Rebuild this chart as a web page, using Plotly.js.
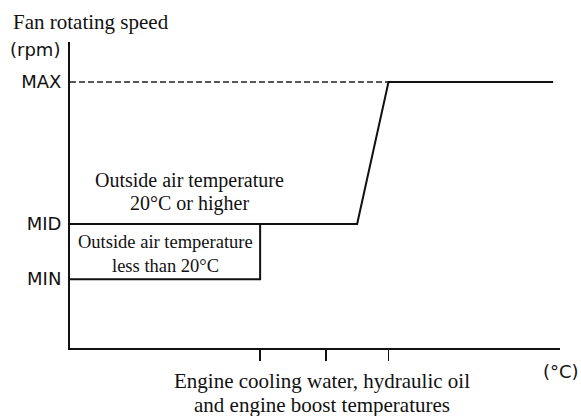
<!DOCTYPE html>
<html>
<head>
<meta charset="utf-8">
<script src="https://cdn.plot.ly/plotly-3.0.1.min.js"></script>
<style>html,body{margin:0;padding:0;background:#fff;}#chart{width:581px;height:416px;}</style>
</head>
<body>
<div id="chart"></div>
<script>
// Fan speed levels (relative scale 0-100)
const levelNames = ['MIN', 'MID', 'MAX'];
const levelValues = [22.5, 40.5, 86.9];
// Temperature axis (relative scale 0-100), threshold ticks
const tempTicks = [38.8, 52.2, 65.0];
// Outside air temperature 20°C or higher
const highX = [0, 58.6, 65.0, 98.6];
const highY = [40.5, 40.5, 86.9, 86.9];
// Outside air temperature less than 20°C
const lowX = [0, 38.8, 38.8];
const lowY = [22.5, 22.5, 40.5];
// MAX reference (dashed)
const maxRefX = [0, 65.0];
const maxRefY = [86.9, 86.9];

const serif = 'Liberation Serif, Times New Roman, serif';
const sans = 'DejaVu Sans, sans-serif';

const traces = [
  {x: maxRefX, y: maxRefY, mode: 'lines', line: {color: '#222', width: 1.5, dash: '6px,3px'}, hoverinfo: 'skip'},
  {x: highX, y: highY, mode: 'lines', line: {color: '#111', width: 2}, name: '20°C or higher'},
  {x: lowX, y: lowY, mode: 'lines', line: {color: '#111', width: 2}, name: 'less than 20°C'}
];

const ann = (text, x, y, size, extra) => Object.assign({
  text: text, x: x, y: y, xref: 'x', yref: 'y', showarrow: false,
  xanchor: 'center', yanchor: 'middle', font: {family: serif, size: size, color: '#111'}
}, extra || {});

const layout = {
  width: 581, height: 416,
  margin: {l: 70, r: 21, t: 42, b: 68},
  paper_bgcolor: '#fff', plot_bgcolor: '#fff',
  showlegend: false,
  xaxis: {range: [0, 100], showgrid: false, zeroline: false, showline: true,
          linecolor: '#111', linewidth: 2, tickmode: 'array', tickvals: tempTicks,
          ticktext: tempTicks.map(() => ''), ticks: 'outside', ticklen: 11,
          tickwidth: 1.5, tickcolor: '#111', showticklabels: true, fixedrange: true},
  yaxis: {range: [0, 100], showgrid: false, zeroline: false, showline: true,
          linecolor: '#111', linewidth: 2, tickmode: 'array', tickvals: levelValues,
          ticktext: levelNames, ticks: '', ticklabelstandoff: 3,
          tickfont: {family: sans, size: 18, color: '#111'}, fixedrange: true},
  annotations: [
    ann('Fan rotating speed', -0.1204, 1.065, 21, {xref: 'paper', yref: 'paper', xanchor: 'left'}),
    ann('Outside air temperature', 24.3, 54.6, 20),
    ann('20°C or higher', 24.3, 47.1, 20),
    ann('Outside air temperature', 19.4, 34.6, 18.5),
    ann('less than 20°C', 19.4, 26.8, 18.5),
    ann('Engine cooling water, hydraulic oil', 0.514, -0.108, 21, {xref: 'paper', yref: 'paper'}),
    ann('and engine boost temperatures', 0.514, -0.186, 21, {xref: 'paper', yref: 'paper'}),
    {text: '(rpm)', xref: 'paper', yref: 'paper', x: -0.0173, y: 0.974, xanchor: 'right', yanchor: 'middle',
     showarrow: false, font: {family: sans, size: 18, color: '#111'}},
    {text: '(°C)', xref: 'paper', yref: 'paper', x: 1.0429, y: -0.078, xanchor: 'right', yanchor: 'middle',
     showarrow: false, font: {family: sans, size: 18, color: '#111'}}
  ]
};

Plotly.newPlot('chart', traces, layout, {staticPlot: true, displayModeBar: false});
</script>
</body>
</html>
